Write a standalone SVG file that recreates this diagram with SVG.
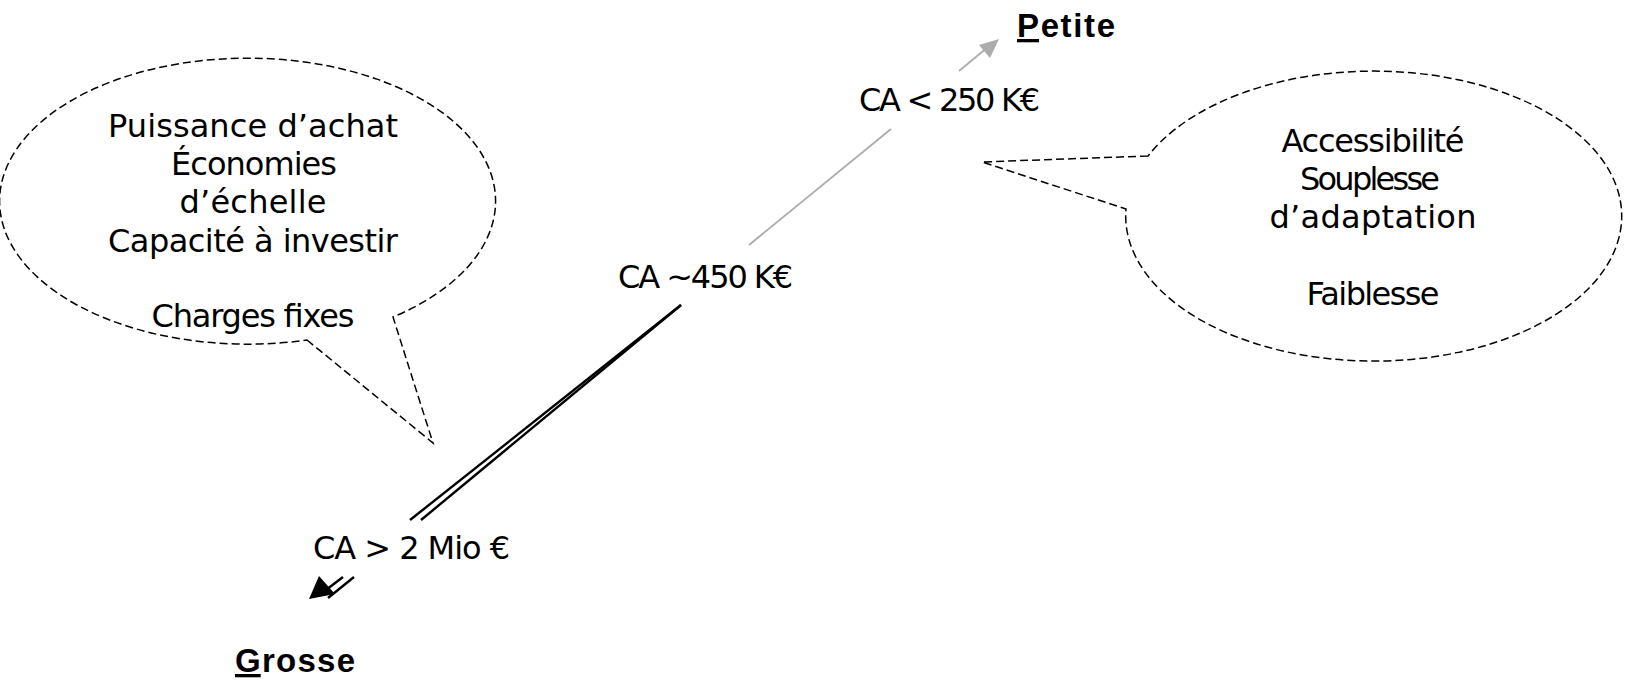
<svg xmlns="http://www.w3.org/2000/svg" width="1626" height="689" viewBox="0 0 1626 689">
  <style>
    .t { font-family: "DejaVu Sans", "Liberation Sans", sans-serif; font-size: 32px; fill: #000; }
    .b { font-family: "Liberation Sans", "DejaVu Sans", sans-serif; font-size: 33px; font-weight: bold; fill: #000; }
    .bubble { fill: none; stroke: #000; stroke-width: 1.5; stroke-dasharray: 8 4; }
    .gray { stroke: #acacac; stroke-width: 1.8; fill: none; }
    .blk { stroke: #000; stroke-width: 2.4; fill: none; }
  </style>
  <rect width="1626" height="689" fill="#fff"/>

  <g id="connectors">
    <line class="gray" x1="891" y1="129" x2="749" y2="245"/>
    <line class="gray" x1="959" y1="71" x2="988" y2="47"/>
    <path d="M999,39 L979,45 L990,58 Z" fill="#acacac"/>
    <line class="blk" x1="681" y1="305" x2="410" y2="520"/>
    <line class="blk" x1="681" y1="305" x2="421" y2="520"/>
    <line class="blk" x1="343" y1="577" x2="322" y2="593"/>
    <line class="blk" x1="354" y1="577" x2="328" y2="598"/>
    <path d="M309,599 L319,576 L335,594 Z" fill="#000"/>
  </g>

  <g id="bubble-left">
    <path class="bubble" d="M307,340 L433,443 L393,317 A248,143 0 1 0 307,340 Z"/>
    <text class="t" x="253" y="137" text-anchor="middle" textLength="290">Puissance d’achat</text>
    <text class="t" x="254" y="175" text-anchor="middle" textLength="166">Économies</text>
    <text class="t" x="253" y="213" text-anchor="middle" textLength="147">d’échelle</text>
    <text class="t" x="253" y="252" text-anchor="middle" textLength="290">Capacité à investir</text>
    <text class="t" x="253" y="327" text-anchor="middle" textLength="203">Charges fixes</text>
  </g>

  <g id="bubble-right">
    <path class="bubble" d="M1148,156 L982,162 L1126,209 A248,145 0 1 0 1148,156 Z"/>
    <text class="t" x="1373" y="152" text-anchor="middle" textLength="183">Accessibilité</text>
    <text class="t" x="1370" y="190" text-anchor="middle" textLength="140">Souplesse</text>
    <text class="t" x="1373" y="228" text-anchor="middle" textLength="207">d’adaptation</text>
    <text class="t" x="1373" y="305" text-anchor="middle" textLength="133">Faiblesse</text>
  </g>

  <g id="label-ca250">
    <text class="t" x="859" y="111" textLength="181">CA &lt; 250 K€</text>
  </g>
  <g id="label-ca450">
    <text class="t" x="618" y="288" textLength="175">CA ~450 K€</text>
  </g>
  <g id="label-ca2m">
    <text class="t" x="313" y="559" textLength="197">CA &gt; 2 Mio €</text>
  </g>

  <g id="node-petite">
    <text class="b" x="1017" y="37" textLength="98"><tspan text-decoration="underline">P</tspan>etite</text>
  </g>
  <g id="node-grosse">
    <text class="b" x="235" y="672" textLength="120"><tspan text-decoration="underline">G</tspan>rosse</text>
  </g>
</svg>
